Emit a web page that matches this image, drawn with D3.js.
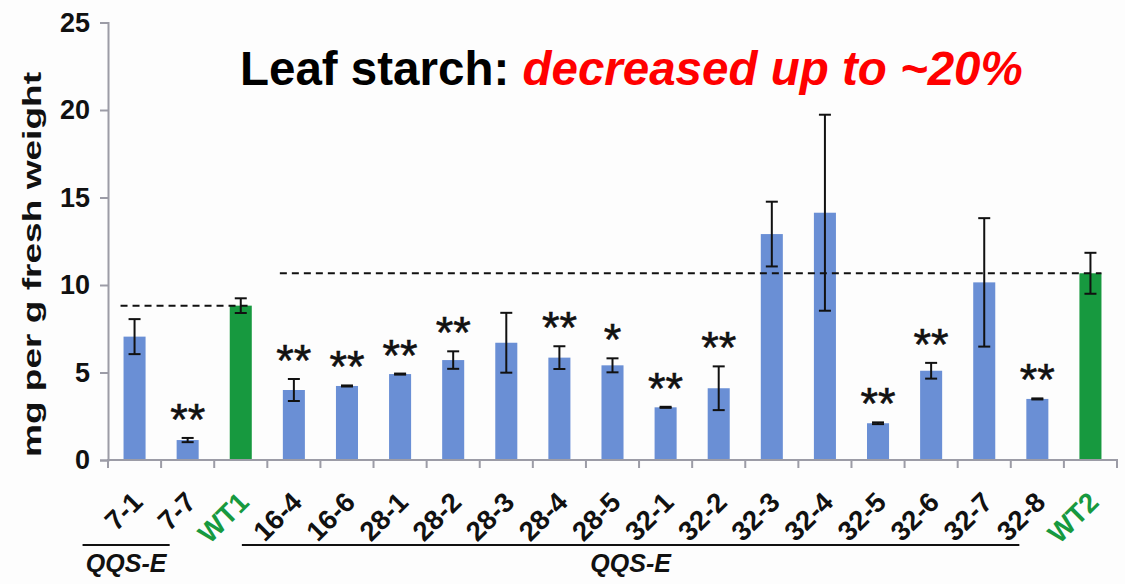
<!DOCTYPE html>
<html>
<head>
<meta charset="utf-8">
<script src="https://cdn.jsdelivr.net/npm/d3@7"></script>
<style>
  html, body { margin: 0; padding: 0; background: #fdfdfd; }
  svg { display: block; font-family: "Liberation Sans", Arial, sans-serif; }
</style>
</head>
<body>
<svg id="chart" width="1125" height="584"></svg>
<script>
// Lines and wild-type controls
const lines = ["7-1", "7-7", "WT1", "16-4", "16-6", "28-1", "28-2", "28-3", "28-4", "28-5",
               "32-1", "32-2", "32-3", "32-4", "32-5", "32-6", "32-7", "32-8", "WT2"];
// Leaf starch, mg per g fresh weight
const starch = [7.05, 1.14, 8.82, 4.0, 4.23, 4.91, 5.71, 6.70, 5.85, 5.41,
                3.01, 4.10, 12.91, 14.13, 2.10, 5.10, 10.15, 3.49, 10.67];
// Error bar half-lengths
const errors = [1.0, 0.12, 0.42, 0.63, 0.03, 0.03, 0.5, 1.71, 0.65, 0.4,
                0.03, 1.25, 1.85, 5.6, 0.05, 0.45, 3.67, 0.03, 1.17];
// Significance marks against the matching wild type
const signif = ["", "**", "", "**", "**", "**", "**", "", "**", "*",
                "**", "**", "", "", "**", "**", "", "**", ""];
const yTicks = [0, 5, 10, 15, 20, 25];
// Wild-type reference levels: [first line, last line, value]
const references = [["7-1", "WT1", 8.82], ["16-4", "WT2", 10.67]];
// Transgenic groups underlined below the axis
const groups = [["7-1", "7-7", "QQS-E"], ["16-4", "32-8", "QQS-E"]];

const blue = "#6a8fd5", green = "#17993f", axisGrey = "#9c9ca6";

const svg = d3.select("#chart");
const plot = { left: 108, right: 1117, top: 22.5, bottom: 460 };

const x = d3.scaleBand().domain(lines).range([plot.left, plot.right])
  .paddingInner(0.585).paddingOuter(0.2925);
const y = d3.scaleLinear().domain([0, 25]).range([plot.bottom, plot.top]);
const isWT = d => d.startsWith("WT");
const cx = d => x(d) + x.bandwidth() / 2;

const data = lines.map((d, i) => ({ line: d, v: starch[i], e: errors[i], s: signif[i] }));

// Title
const title = svg.append("text").attr("x", 240).attr("y", 85)
  .attr("font-size", 47.5).attr("font-weight", "bold").attr("fill", "#000");
title.append("tspan").text("Leaf starch: ");
title.append("tspan").attr("fill", "#ff0000").attr("font-style", "italic")
  .text("decreased up to ~20%");

// Bars
svg.append("g").selectAll("rect").data(data).join("rect")
  .attr("x", d => x(d.line)).attr("width", x.bandwidth())
  .attr("y", d => y(d.v)).attr("height", d => y(0) - y(d.v))
  .attr("fill", d => isWT(d.line) ? green : blue);

// Reference levels
svg.append("g").selectAll("line").data(references).join("line")
  .attr("x1", d => x(d[0]) - 3).attr("x2", d => x(d[1]) + x.bandwidth())
  .attr("y1", d => y(d[2])).attr("y2", d => y(d[2]))
  .attr("stroke", "#111").attr("stroke-width", 2).attr("stroke-dasharray", "7,5");

// Error bars
const eb = svg.append("g").attr("stroke", "#111").attr("stroke-width", 2);
eb.selectAll(".stem").data(data).join("line")
  .attr("x1", d => cx(d.line)).attr("x2", d => cx(d.line))
  .attr("y1", d => y(d.v + d.e)).attr("y2", d => y(d.v - d.e));
eb.selectAll(".capT").data(data).join("line")
  .attr("x1", d => cx(d.line) - 6).attr("x2", d => cx(d.line) + 6)
  .attr("y1", d => y(d.v + d.e)).attr("y2", d => y(d.v + d.e));
eb.selectAll(".capB").data(data).join("line")
  .attr("x1", d => cx(d.line) - 6).attr("x2", d => cx(d.line) + 6)
  .attr("y1", d => y(d.v - d.e)).attr("y2", d => y(d.v - d.e));

// Significance asterisks
svg.append("g").selectAll("text").data(data.filter(d => d.s)).join("text")
  .attr("x", d => cx(d.line)).attr("y", d => y(d.v + d.e) - 3)
  .attr("text-anchor", "middle").attr("font-size", 45).attr("fill", "#111")
  .attr("stroke", "#111").attr("stroke-width", 0.6)
  .text(d => d.s);

// Y axis
const yAxis = svg.append("g").attr("transform", `translate(${plot.left},0)`)
  .call(d3.axisLeft(y).tickValues(yTicks).tickSize(8).tickPadding(10));
yAxis.select(".domain").attr("stroke", axisGrey).attr("stroke-width", 2);
yAxis.selectAll(".tick line").attr("stroke", axisGrey).attr("stroke-width", 2);
yAxis.selectAll(".tick text").attr("font-size", 27).attr("font-weight", "bold")
  .attr("fill", "#111").attr("font-family", "Liberation Sans, Arial, sans-serif");

svg.append("text")
  .attr("transform", `translate(41,${(72 + 457) / 2}) rotate(-90)`)
  .attr("text-anchor", "middle").attr("font-size", 25).attr("font-weight", "bold")
  .attr("fill", "#111").attr("textLength", 385).attr("lengthAdjust", "spacingAndGlyphs")
  .text("mg per g fresh weight");

// X axis with category boundaries as ticks
const xAxis = svg.append("g").attr("stroke", axisGrey).attr("stroke-width", 2);
xAxis.append("line").attr("x1", plot.left - 1).attr("x2", plot.right + 1)
  .attr("y1", plot.bottom).attr("y2", plot.bottom);
xAxis.selectAll(".bound").data(d3.range(lines.length + 1)).join("line")
  .attr("x1", i => plot.left + i * x.step()).attr("x2", i => plot.left + i * x.step())
  .attr("y1", plot.bottom).attr("y2", plot.bottom + 8);

svg.append("g").selectAll("text").data(lines).join("text")
  .attr("transform", d => `translate(${cx(d) + 3},497) rotate(-45)`)
  .attr("text-anchor", "end").attr("dy", "0.35em")
  .attr("font-size", 27.5).attr("font-weight", "bold")
  .attr("fill", d => isWT(d) ? green : "#111")
  .text(d => d);

// Group underlines
const g = svg.append("g").selectAll("g").data(groups).join("g");
g.append("line")
  .attr("x1", d => cx(d[0]) - 52).attr("x2", d => cx(d[1]) - 18)
  .attr("y1", 545).attr("y2", 545).attr("stroke", "#111").attr("stroke-width", 2);
g.append("text")
  .attr("x", d => (cx(d[0]) - 52 + cx(d[1]) - 18) / 2).attr("y", 572)
  .attr("text-anchor", "middle").attr("font-size", 25).attr("font-weight", "bold")
  .attr("font-style", "italic").attr("fill", "#111")
  .text(d => d[2]);
</script>
</body>
</html>
